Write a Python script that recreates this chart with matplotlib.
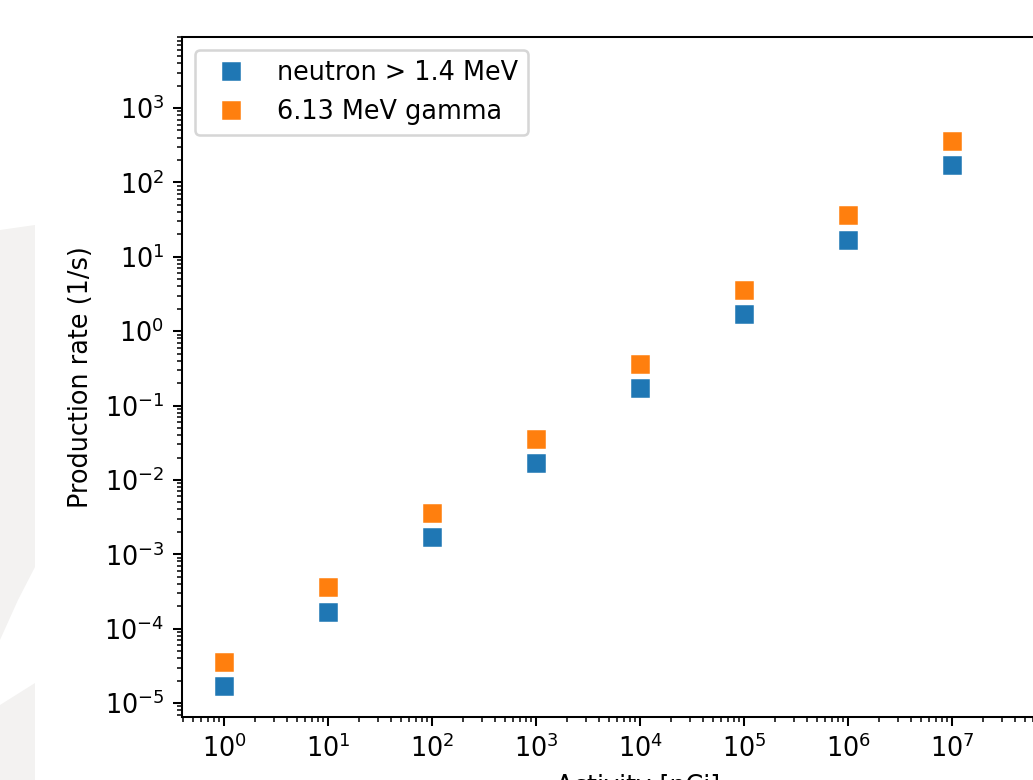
import numpy as np
import matplotlib
matplotlib.use("Agg")
import matplotlib.pyplot as plt
from matplotlib.patches import Polygon

activity = [1e0, 1e1, 1e2, 1e3, 1e4, 1e5, 1e6, 1e7]
neutron_rate = [1.7e-5, 1.7e-4, 1.7e-3, 1.7e-2, 1.7e-1, 1.7e0, 1.7e1, 1.7e2]
gamma_rate = [3.6e-5, 3.6e-4, 3.6e-3, 3.6e-2, 3.6e-1, 3.6e0, 3.6e1, 3.6e2]
labels = ["neutron > 1.4 MeV", "6.13 MeV gamma"]

W, H = 1033, 780
dpi = 184
fig = plt.figure(figsize=(W / dpi, H / dpi), dpi=dpi)

# faint background watermark shapes on the left
wm1 = Polygon([(0, 1 - 230 / H), (35 / W, 1 - 225 / H), (35 / W, 1 - 567 / H),
               (18 / W, 1 - 600 / H), (0, 1 - 640 / H)],
              closed=True, transform=fig.transFigure, facecolor="#f3f2f1",
              edgecolor="none", zorder=0)
wm2 = Polygon([(0, 1 - 705 / H), (35 / W, 1 - 683 / H), (35 / W, 0), (0, 0)],
              closed=True, transform=fig.transFigure, facecolor="#f3f2f1",
              edgecolor="none", zorder=0)
fig.patches.extend([wm1, wm2])

left_px, right_px, top_px, bottom_px = 182, 1094, 37, 717
ax = fig.add_axes([left_px / W, (H - bottom_px) / H,
                   (right_px - left_px) / W, (bottom_px - top_px) / H])
ax.patch.set_alpha(0)

ax.plot(activity, neutron_rate, "s", color="#1f77b4", label=labels[0])
ax.plot(activity, gamma_rate, "s", color="#ff7f0e", label=labels[1])
ax.set_xscale("log")
ax.set_yscale("log")
ax.set_xlim(10 ** (-0.404), 10 ** 8.365)
ax.set_ylim(10 ** (-5.188), 10 ** 3.955)
ax.set_xticks([10.0 ** k for k in range(0, 8)])
ax.set_yticks([10.0 ** k for k in range(-5, 4)])
ax.set_xlabel("Activity [nCi]")
ax.set_ylabel("Production rate (1/s)")
ax.legend(loc="upper left")

fig.savefig("out.png", dpi=dpi)
